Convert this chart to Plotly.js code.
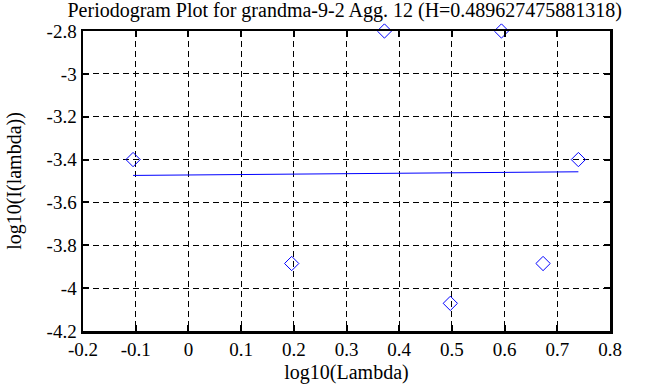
<!DOCTYPE html>
<html><head><meta charset="utf-8">
<script src="https://cdn.plot.ly/plotly-3.0.1.min.js"></script>
<style>body{margin:0;background:#fff}#c{width:663px;height:387px}</style>
</head><body><div id="c"></div>
<script>
const logLambda = [-0.105, 0.196, 0.372, 0.497, 0.594, 0.673, 0.740];
const logI = [-3.40, -3.885, -2.80, -4.071, -2.80, -3.885, -3.40];
const fitX = [-0.105, 0.740];
const fitY = [-3.474, -3.457];
const xTicks = [-0.2,-0.1,0,0.1,0.2,0.3,0.4,0.5,0.6,0.7,0.8];
const yTicks = [-4.2,-4,-3.8,-3.6,-3.4,-3.2,-3,-2.8];
const fam = 'Liberation Serif, Times New Roman, serif';
const tickFont = {family:fam, size:19, color:'#000'};
const titleFont = {family:fam, size:20, color:'#000'};
const ax = {showgrid:true, gridcolor:'#000', griddash:'6px,4px', gridwidth:1,
  zeroline:false, showline:true, linecolor:'#000', linewidth:2.5, mirror:'ticks',
  ticks:'inside', ticklen:6, tickcolor:'#000', tickwidth:2, tickfont:tickFont};
Plotly.newPlot('c', [
  {x:fitX, y:fitY, mode:'lines', line:{color:'#0000ff', width:1}, showlegend:false},
  {x:logLambda, y:logI, mode:'markers', cliponaxis:false,
   marker:{symbol:'diamond-open', size:11, color:'#0000ff', line:{width:1, color:'#0000ff'}}, showlegend:false}
], {
  width:663, height:387, paper_bgcolor:'#fff', plot_bgcolor:'#fff',
  margin:{l:83, r:53, t:31, b:56},
  font: tickFont,
  title:{text:'Periodogram Plot for grandma-9-2 Agg. 12 (H=0.489627475881318)', font:titleFont, x:0.52, xanchor:'center', y:0.975, yanchor:'middle'},
  xaxis:Object.assign({}, ax, {range:[-0.2,0.8], tickvals:xTicks, ticktext:xTicks.map(String),
    title:{text:'log10(Lambda)', font:titleFont, standoff:6}}),
  yaxis:Object.assign({}, ax, {range:[-4.2,-2.8], tickvals:yTicks, ticktext:yTicks.map(String),
    title:{text:'log10(I(lambda))', font:titleFont, standoff:20}})
}, {displayModeBar:false, staticPlot:true});
</script></body></html>
